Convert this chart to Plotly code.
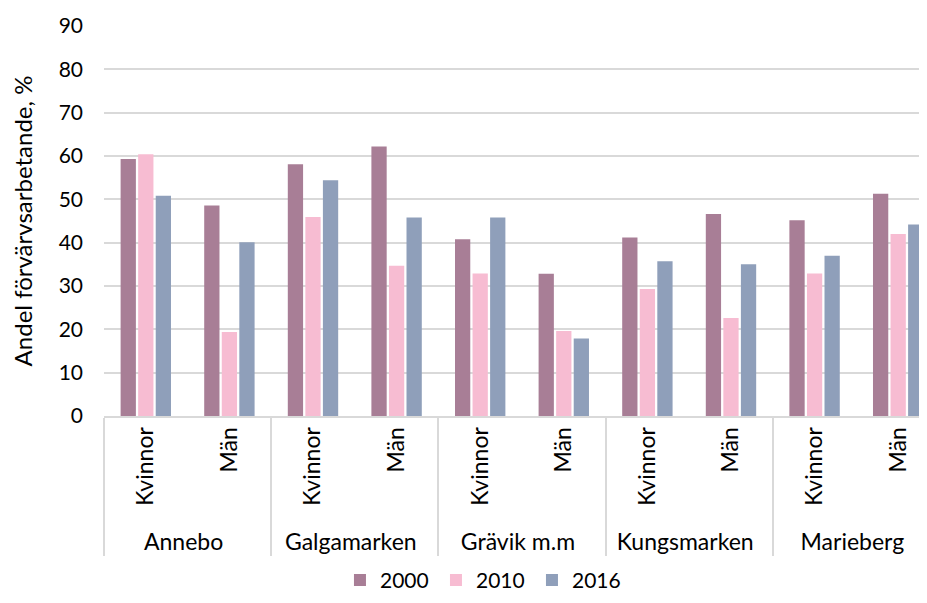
import plotly.graph_objects as go

areas = ["Annebo", "Annebo", "Galgamarken", "Galgamarken", "Grävik m.m", "Grävik m.m",
         "Kungsmarken", "Kungsmarken", "Marieberg", "Marieberg"]
sexes = ["Kvinnor", "Män"] * 5
y2000 = [59.3, 48.6, 58.1, 62.2, 40.8, 32.8, 41.2, 46.6, 45.2, 51.3]
y2010 = [60.4, 19.4, 45.9, 34.7, 32.9, 19.6, 29.3, 22.6, 32.9, 42.0]
y2016 = [50.8, 40.1, 54.4, 45.8, 45.8, 17.9, 35.7, 35.0, 37.0, 44.2]
series = [("2000", y2000, "#A87E96"), ("2010", y2010, "#F7BCD2"), ("2016", y2016, "#8F9FBA")]

fig = go.Figure()
for name, vals, col in series:
    fig.add_trace(go.Bar(x=[areas, sexes], y=vals, name=name, marker_color=col,
                         marker_line_width=0))

font = "Lato, Open Sans, sans-serif"
fig.update_layout(
    width=911, height=587,
    margin=dict(l=96, r=0, t=18, b=179),
    paper_bgcolor="white", plot_bgcolor="white",
    barmode="group", bargap=0.37, bargroupgap=0.13,
    font=dict(family=font, size=21, color="#000000"),
    legend=dict(orientation="h", xref="container", x=0.3644, xanchor="left",
                yref="container", y=0.025, yanchor="middle",
                font=dict(size=21), itemwidth=30, entrywidth=51, entrywidthmode="pixels",
                traceorder="normal"),
    showlegend=True,
)
fig.update_yaxes(range=[0, 90], dtick=10, showgrid=True, gridcolor="#D9D9D9", gridwidth=1.5,
                 zeroline=False, showline=False, ticks="", ticklabelstandoff=20,
                 automargin=False,
                 title=dict(text="Andel förvärvsarbetande, %", font=dict(size=24), standoff=19),
                 tickfont=dict(size=21))
fig.update_xaxes(type="multicategory", range=[-0.5, 9.249], showline=True,
                 linecolor="#D9D9D9", linewidth=2,
                 tickangle=-90, showdividers=True, dividercolor="#D9D9D9", dividerwidth=2,
                 automargin=False, tickfont=dict(size=23), ticks="")
fig.write_html("out.html")
